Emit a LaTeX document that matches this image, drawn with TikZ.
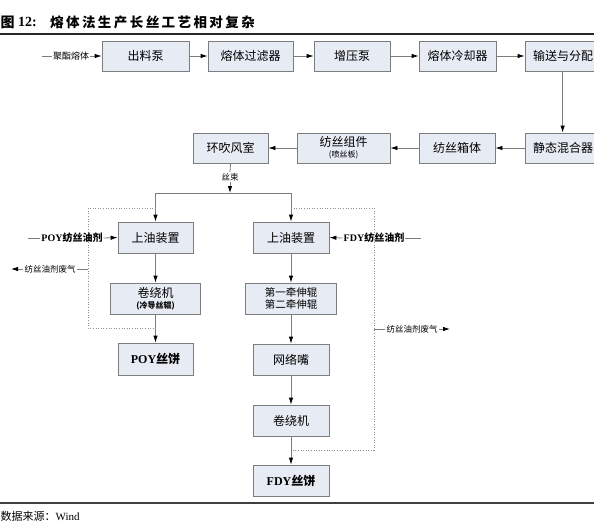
\documentclass[tikz,border=0pt]{standalone}
\usepackage{fontspec}
\setmainfont{Liberation Serif}
\newfontfamily\cjk{Noto Sans CJK SC}
\newfontfamily\cjkt{Noto Sans CJK SC}[LetterSpace=18]
\usetikzlibrary{arrows.meta}
\definecolor{boxfill}{RGB}{230,235,244}
\definecolor{edge}{RGB}{125,125,125}
\tikzset{
  box/.style={draw=edge, line width=0.8pt, fill=boxfill, inner sep=0pt, align=center,
    font=\cjk\fontsize{12}{14}\selectfont},
  arr/.style={draw=edge, line width=0.8pt, -{Latex[black,length=7pt,width=4.5pt]}},
  ln/.style={draw=edge, line width=0.8pt},
  dotln/.style={draw=edge!85, line width=0.6pt, dotted},
  small/.style={font=\cjk\fontsize{8.5}{10}\selectfont, inner sep=1pt},
  lbl/.style={font=\cjk\fontsize{10}{12}\selectfont, inner sep=1pt},
}
\begin{document}
\begin{tikzpicture}[x=1pt,y=-1pt]
\useasboundingbox (0,0) rectangle (594,528);
\clip (0,0) rectangle (594,528);

% title and rules
\node[anchor=west, inner sep=0pt, font=\cjk\bfseries\fontsize{14}{16}\selectfont] (ttl1) at (0.5,22) {图};
\node[anchor=west, inner sep=0pt, font=\rmfamily\bfseries\fontsize{14}{16}\selectfont] (ttl2) at (18,22) {12:};
\node[anchor=west, inner sep=0pt, font=\cjkt\bfseries\fontsize{13.5}{16}\selectfont] (ttl3) at (50,22) {熔体法生产长丝工艺相对复杂};
\draw[line width=1.5pt, black!85] (0,34) -- (594,34);
\draw[line width=1.5pt, black!75] (0,503) -- (594,503);
\node[anchor=west, inner sep=0pt, font=\cjk\fontsize{11}{13}\selectfont] (src) at (0.5,516) {数据来源：{\rmfamily Wind}};

% top row
\node[box, minimum width=87pt, minimum height=30pt] (b1) at (145.5,56) {出料泵};
\node[box, minimum width=85pt, minimum height=30pt] (b2) at (250.5,56) {熔体过滤器};
\node[box, minimum width=76pt, minimum height=30pt] (b3) at (352,56) {增压泵};
\node[box, minimum width=77pt, minimum height=30pt] (b4) at (457.5,56) {熔体冷却器};
\node[box, minimum width=90pt, minimum height=30pt, text width=80pt, align=left] (b5) at (570,56) {\hspace*{3pt}输送与分配};

% second row
\node[box, minimum width=90pt, minimum height=30pt, text width=80pt, align=left] (b6) at (570,148) {\hspace*{3pt}静态混合器};
\node[box, minimum width=76pt, minimum height=30pt] (b7) at (457,148) {纺丝箱体};
\node[box, minimum width=93pt, minimum height=30pt] (b8) at (343.5,148) {纺丝组件\\[-3pt]{\fontsize{8}{9}\selectfont (喷丝板)}};
\node[box, minimum width=75pt, minimum height=30pt] (b9) at (230.5,148) {环吹风室};

% left column
\node[box, minimum width=75pt, minimum height=31pt] (L1) at (155.5,237.5) {上油装置};
\node[box, minimum width=90pt, minimum height=31pt] (L2) at (155.5,298.5) {卷绕机\\[-3pt]{\bfseries\fontsize{8}{9}\selectfont (冷导丝辊)}};
\node[box, minimum width=75pt, minimum height=32pt] (L3) at (155.5,359) {{\rmfamily\bfseries POY}{\bfseries 丝饼}};

% right column
\node[box, minimum width=76pt, minimum height=31pt] (R1) at (291,237.5) {上油装置};
\node[box, minimum width=91pt, minimum height=31pt, font=\cjk\fontsize{10.5}{12.5}\selectfont] (R2) at (291,298.5) {第一牵伸辊\\第二牵伸辊};
\node[box, minimum width=76pt, minimum height=31pt] (R3) at (291,359.5) {网络嘴};
\node[box, minimum width=76pt, minimum height=31pt] (R4) at (291,420.5) {卷绕机};
\node[box, minimum width=76pt, minimum height=31pt] (R5) at (291,480.5) {{\rmfamily\bfseries FDY}{\bfseries 丝饼}};

% input melt
\coordinate (s1) at (42,56);
\node[lbl, font=\cjk\fontsize{9}{11}\selectfont] (t1) at (71,56) {聚酯熔体};
\draw[ln] (s1) -- (t1.west);
\draw[arr] (t1.east) -- (b1.west);

% top row arrows
\draw[arr] (b1.east) -- (b2.west);
\draw[arr] (b2.east) -- (b3.west);
\draw[arr] (b3.east) -- (b4.west);
\draw[arr] (b4.east) -- (b5.west);
\draw[arr] ([xshift=38pt]b5.south west) -- ([xshift=38pt]b6.north west);
\draw[arr] (b6.west) -- (b7.east);
\draw[arr] (b7.west) -- (b8.east);
\draw[arr] (b8.west) -- (b9.east);

% tow split
\node[small] (sl) at (230,177) {丝束};
\coordinate (sp) at (230,193);
\coordinate (jl) at (155.5,193);
\coordinate (jr) at (291,193);
\draw[ln] (b9.south) -- (sl.north);
\draw[arr] (sl.south) -- (sp);
\draw[ln] (jl) -- (jr);
\draw[arr] (jl) -- (L1.north);
\draw[arr] (jr) -- (R1.north);

% left chain
\draw[arr] (L1.south) -- (L2.north);
\draw[arr] (L2.south) -- (L3.north);

% right chain
\draw[arr] (R1.south) -- (R2.north);
\draw[arr] (R2.south) -- (R3.north);
\draw[arr] (R3.south) -- (R4.north);
\draw[arr] (R4.south) -- (R5.north);

% dotted exhaust loops
\coordinate (dla) at (155.5,208);
\coordinate (dlb) at (155.5,328);
\coordinate (dlc) at (88,208);
\coordinate (dld) at (88,328);
\draw[dotln] (dla) -- (dlc) -- (dld) -- (dlb);
\coordinate (dra) at (291,208);
\coordinate (drb) at (291,450);
\coordinate (drc) at (374,208);
\coordinate (drd) at (374,450);
\draw[dotln] (dra) -- (drc) -- (drd) -- (drb);

% exhaust labels
\coordinate (wl) at (88,269);
\node[small] (wlt) at (50,269) {纺丝油剂废气};
\coordinate (wle) at (11,269);
\draw[ln] (wl) -- (wlt.east);
\draw[arr] (wlt.west) -- (wle);

\coordinate (wr) at (374,329);
\node[small] (wrt) at (412,329) {纺丝油剂废气};
\coordinate (wre) at (450,329);
\draw[ln] (wr) -- (wrt.west);
\draw[arr] (wrt.east) -- (wre);

% oil inputs
\coordinate (pin) at (28,238);
\node[lbl] (pt) at (72,238) {{\rmfamily\bfseries POY}{\bfseries 纺丝油剂}};
\draw[ln] (pin) -- (pt.west);
\draw[arr] (pt.east) -- (L1.west);

\coordinate (fin) at (421,238);
\node[lbl] (ft) at (374,238) {{\rmfamily\bfseries FDY}{\bfseries 纺丝油剂}};
\draw[ln] (fin) -- (ft.east);
\draw[arr] (ft.west) -- (R1.east);
\end{tikzpicture}
\end{document}
